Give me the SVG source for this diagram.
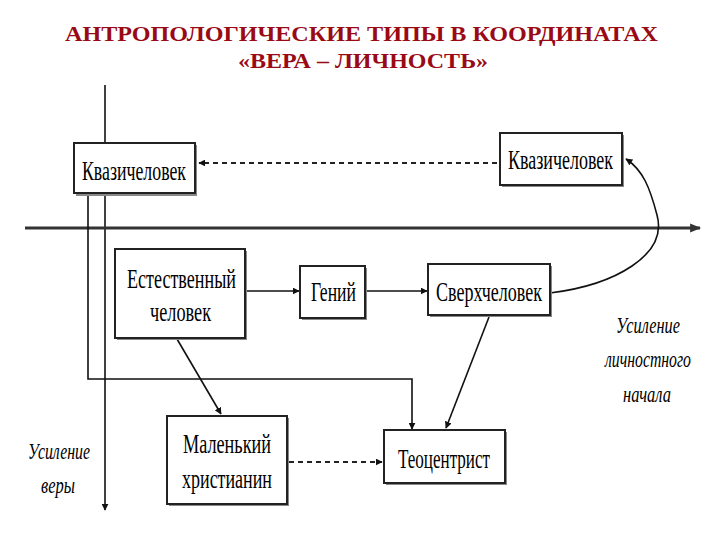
<svg xmlns="http://www.w3.org/2000/svg" width="720" height="540" viewBox="0 0 720 540">
<style>
.title{font-family:"Liberation Serif",serif;font-weight:bold;font-size:20px;fill:#9a0a14}
.box{fill:#fff;stroke:#222;stroke-width:2}
.shadow{fill:#888}
.lbl{font-family:"Liberation Serif",serif;font-size:28px;fill:#000}
.it{font-family:"Liberation Serif",serif;font-style:italic;font-size:23px;fill:#000}
.ln{stroke:#111;stroke-width:1.6;fill:none}
.dash{stroke:#222;stroke-width:2;fill:none;stroke-dasharray:5,4}
</style>
<defs>
<marker id="ah" viewBox="0 0 10 10" refX="9" refY="5" markerWidth="7" markerHeight="7" markerUnits="userSpaceOnUse" orient="auto"><path d="M0,0 L10,5 L0,10 z" fill="#111"/></marker>
<marker id="ah2" viewBox="0 0 10 10" refX="9" refY="5" markerWidth="11" markerHeight="11" markerUnits="userSpaceOnUse" orient="auto"><path d="M0,1 L10,5 L0,9 z" fill="#333"/></marker>
</defs>
<rect width="720" height="540" fill="#fff"/>
<text class="title" x="65" y="41" textLength="593" lengthAdjust="spacingAndGlyphs">АНТРОПОЛОГИЧЕСКИЕ ТИПЫ В КООРДИНАТАХ</text>
<text class="title" x="238" y="68" textLength="250" lengthAdjust="spacingAndGlyphs">«ВЕРА – ЛИЧНОСТЬ»</text>

<g id="connectors">
<line x1="105" y1="85" x2="105" y2="510" class="ln" marker-end="url(#ah)"/>
<line x1="25" y1="228" x2="700" y2="228" stroke="#333" stroke-width="3" marker-end="url(#ah2)"/>
<line x1="497" y1="163" x2="199" y2="163" class="dash" marker-end="url(#ah)"/>
<path d="M550,293 C615,285 668,255 657,215 C650,188 643,170 626,159" class="ln" stroke-width="1.8" marker-end="url(#ah)"/>
<line x1="246" y1="291" x2="299" y2="291" class="ln" stroke-width="2" marker-end="url(#ah)"/>
<line x1="366" y1="291" x2="427" y2="291" class="ln" stroke-width="2" marker-end="url(#ah)"/>
<polyline points="88,195 88,379 412,379 412,429" class="ln" marker-end="url(#ah)"/>
<line x1="177" y1="339" x2="221" y2="414" class="ln" marker-end="url(#ah)"/>
<line x1="489" y1="317" x2="446" y2="428" class="ln" marker-end="url(#ah)"/>
<line x1="289" y1="462" x2="382" y2="462" class="dash" marker-end="url(#ah)"/>
</g>

<g id="n-kvazi-left">
<rect x="76" y="145" width="121" height="51" class="shadow"/>
<rect x="74" y="143" width="121" height="50" class="box"/>
<text class="lbl" x="82" y="180" textLength="104" lengthAdjust="spacingAndGlyphs">Квазичеловек</text>
</g>
<g id="n-kvazi-right">
<rect x="502" y="135" width="122" height="52" class="shadow"/>
<rect x="500" y="133" width="122" height="52" class="box"/>
<text class="lbl" x="508" y="169" textLength="105" lengthAdjust="spacingAndGlyphs">Квазичеловек</text>
</g>
<g id="n-natural">
<rect x="117" y="251" width="130" height="89" class="shadow"/>
<rect x="115" y="249" width="130" height="89" class="box"/>
<text class="lbl" x="127" y="288" textLength="109" lengthAdjust="spacingAndGlyphs">Естественный</text>
<text class="lbl" x="150" y="321" textLength="61" lengthAdjust="spacingAndGlyphs">человек</text>
</g>
<g id="n-genius">
<rect x="302" y="268" width="65" height="52" class="shadow"/>
<rect x="300" y="266" width="65" height="52" class="box"/>
<text class="lbl" x="311" y="301" textLength="45" lengthAdjust="spacingAndGlyphs">Гений</text>
</g>
<g id="n-super">
<rect x="430" y="266" width="122" height="51" class="shadow"/>
<rect x="428" y="264" width="122" height="51" class="box"/>
<text class="lbl" x="436" y="301" textLength="106" lengthAdjust="spacingAndGlyphs">Сверхчеловек</text>
</g>
<g id="n-little">
<rect x="169" y="418" width="120" height="88" class="shadow"/>
<rect x="167" y="416" width="120" height="88" class="box"/>
<text class="lbl" x="183" y="453" textLength="88" lengthAdjust="spacingAndGlyphs">Маленький</text>
<text class="lbl" x="182" y="488" textLength="90" lengthAdjust="spacingAndGlyphs">христианин</text>
</g>
<g id="n-theo">
<rect x="386" y="432" width="121" height="53" class="shadow"/>
<rect x="384" y="430" width="121" height="53" class="box"/>
<text class="lbl" x="398" y="468" textLength="92" lengthAdjust="spacingAndGlyphs">Теоцентрист</text>
</g>

<g id="labels">
<text class="it" x="28" y="459" textLength="62" lengthAdjust="spacingAndGlyphs">Усиление</text>
<text class="it" x="41" y="493" textLength="34" lengthAdjust="spacingAndGlyphs">веры</text>
<text class="it" x="616" y="333" textLength="64" lengthAdjust="spacingAndGlyphs">Усиление</text>
<text class="it" x="605" y="367" textLength="86" lengthAdjust="spacingAndGlyphs">личностного</text>
<text class="it" x="623" y="402" textLength="48" lengthAdjust="spacingAndGlyphs">начала</text>
</g>
</svg>
